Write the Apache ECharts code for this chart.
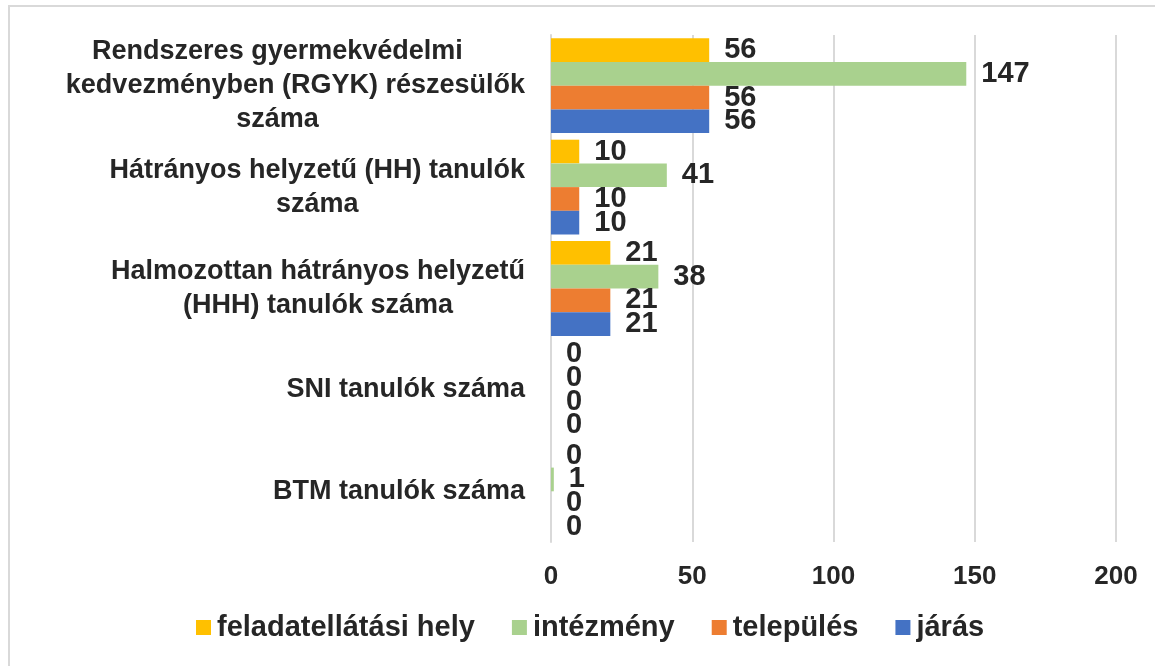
<!DOCTYPE html>
<html>
<head>
<meta charset="utf-8">
<script src="https://cdn.jsdelivr.net/npm/echarts@6/dist/echarts.min.js"></script>
<style>
  html, body { margin: 0; padding: 0; background: #fff; }
  #chart { width: 1155px; height: 666px; }
</style>
</head>
<body>
<div id="chart"></div>
<script>
var categories = [
  'Rendszeres gyermekvédelmi\nkedvezményben (RGYK) részesülők\nszáma',
  'Hátrányos helyzetű (HH) tanulók\nszáma',
  'Halmozottan hátrányos helyzetű\n(HHH) tanulók száma',
  'SNI tanulók száma',
  'BTM tanulók száma'
];
var seriesNames = ['feladatellátási hely', 'intézmény', 'település', 'járás'];
var feladatellatasiHely = [56, 10, 21, 0, 0];
var intezmeny = [147, 41, 38, 0, 1];
var telepules = [56, 10, 21, 0, 0];
var jaras = [56, 10, 21, 0, 0];
var xTicks = [0, 50, 100, 150, 200];

var colors = ['#FFC000', '#A9D18E', '#ED7D31', '#4472C4'];
var textColor = '#262626';
var font = "'Liberation Sans', Arial, sans-serif";

var chart = echarts.init(document.getElementById('chart'));

function makeSeries(name, data) {
  return {
    name: name,
    type: 'bar',
    data: data,
    barGap: '0%',
    barCategoryGap: '6.5%',
    label: {
      show: true,
      position: 'right',
      distance: 15,
      color: textColor,
      fontFamily: font,
      fontWeight: 'bold',
      fontSize: 29
    }
  };
}

var catText = {
  align: 'center',
  color: textColor,
  fontFamily: font,
  fontWeight: 'bold',
  fontSize: 27,
  lineHeight: 34
};

var option = {
  animation: false,
  color: colors,
  grid: {
    left: 551,
    right: 39,
    top: 35,
    bottom: 124,
    containLabel: false
  },
  legend: {
    bottom: 19,
    left: 191,
    icon: 'rect',
    itemWidth: 15,
    itemHeight: 15,
    itemGap: 37,
    data: seriesNames,
    textStyle: {
      color: textColor,
      fontFamily: font,
      fontWeight: 'bold',
      fontSize: 29,
      padding: [0, 0, 0, 1]
    }
  },
  xAxis: {
    type: 'value',
    min: xTicks[0],
    max: xTicks[xTicks.length - 1],
    interval: 50,
    axisLine: { show: false },
    axisTick: { show: false },
    splitLine: { lineStyle: { color: '#d9d9d9', width: 2 } },
    axisLabel: {
      margin: 22,
      color: textColor,
      fontFamily: font,
      fontWeight: 'bold',
      fontSize: 26
    }
  },
  yAxis: {
    type: 'category',
    inverse: true,
    data: categories,
    axisLine: { show: true, lineStyle: { color: '#d9d9d9', width: 2 } },
    axisTick: { show: false },
    axisLabel: {
      margin: 26,
      align: 'right',
      formatter: function (v, idx) {
        var lines = v.split('\n');
        return lines.map(function (s, i) {
          // the long first label sits a bit left of its widest line in the original
          var key = (idx === 0 && i !== 1) ? 'cs' : 'c';
          return '{' + key + '|' + s + '}';
        }).join('\n');
      },
      rich: {
        c: catText,
        cs: Object.assign({}, catText, { padding: [0, 36, 0, 0] })
      }
    }
  },
  graphic: [{
    type: 'rect',
    shape: { x: 9, y: 6, width: 1300, height: 800 },
    style: { fill: 'none', stroke: '#d9d9d9', lineWidth: 2 },
    silent: true,
    z: -1
  }],
  series: [
    makeSeries(seriesNames[0], feladatellatasiHely),
    makeSeries(seriesNames[1], intezmeny),
    makeSeries(seriesNames[2], telepules),
    makeSeries(seriesNames[3], jaras)
  ]
};

chart.setOption(option);
</script>
</body>
</html>
